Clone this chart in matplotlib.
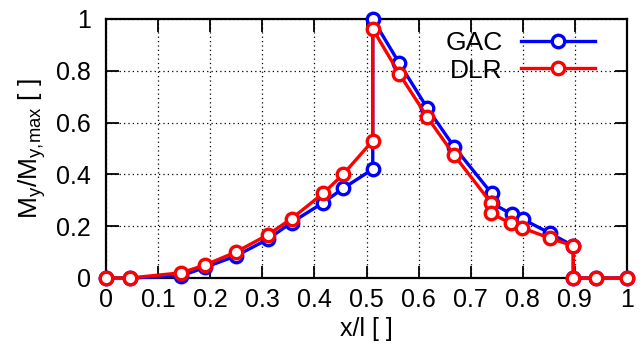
import numpy as np
import matplotlib
matplotlib.use('Agg')
import matplotlib.pyplot as plt
from matplotlib.ticker import FormatStrFormatter

plt.rcParams['font.family'] = ['Liberation Sans', 'DejaVu Sans']
plt.rcParams['mathtext.fontset'] = 'custom'
plt.rcParams['mathtext.rm'] = 'Liberation Sans'
plt.rcParams['mathtext.it'] = 'Liberation Sans'

# Momentenverlauf entlang der Spannweite
gac_x = [0.0, 0.046, 0.144, 0.19, 0.249, 0.31, 0.356, 0.417, 0.455, 0.512, 0.512,
         0.563, 0.617, 0.668, 0.74, 0.74, 0.779, 0.80, 0.852, 0.897, 0.897, 0.94, 1.0]
gac_y = [0.0, 0.0, 0.008, 0.041, 0.085, 0.149, 0.214, 0.291, 0.346, 0.42, 1.0,
         0.829, 0.655, 0.507, 0.327, 0.29, 0.246, 0.227, 0.173, 0.124, 0.0, 0.0, 0.0]

dlr_x = [0.0, 0.046, 0.144, 0.19, 0.249, 0.31, 0.356, 0.417, 0.455, 0.512, 0.512,
         0.563, 0.617, 0.668, 0.739, 0.739, 0.777, 0.798, 0.853, 0.897, 0.897, 0.94, 1.0]
dlr_y = [0.0, 0.0, 0.02, 0.05, 0.10, 0.166, 0.229, 0.327, 0.40, 0.53, 0.961,
         0.788, 0.62, 0.475, 0.29, 0.25, 0.211, 0.194, 0.153, 0.124, 0.0, 0.0, 0.0]

x_ticks = np.arange(0, 1.01, 0.1)
y_ticks = np.arange(0, 1.01, 0.2)

fig = plt.figure(figsize=(6.43, 3.58), dpi=100)
ax = fig.add_axes([0.165, 0.2235, 0.81, 0.7235])

style = dict(linewidth=2.4, marker='o', markersize=9, markerfacecolor='white',
             markeredgewidth=2.4, clip_on=False)
ax.plot(gac_x, gac_y, color='#0000ff', label='GAC', zorder=3, **style)
ax.plot(dlr_x, dlr_y, color='#ff0000', label='DLR', zorder=4, **style)

ax.set_xlim(0, 1)
ax.set_ylim(0, 1)
ax.set_xticks(x_ticks)
ax.set_yticks(y_ticks)
ax.xaxis.set_major_formatter(FormatStrFormatter('%g'))
ax.yaxis.set_major_formatter(FormatStrFormatter('%g'))
ax.tick_params(direction='in', length=9, width=1.3, labelsize=18,
               top=True, right=True)
ax.tick_params(axis='x', pad=7)
ax.tick_params(axis='y', pad=11)
ax.grid(True, color='black', linestyle=(0, (1, 2.5)), linewidth=0.9)
for s in ax.spines.values():
    s.set_linewidth(1.6)

ax.set_xlabel('x/l [ ]', fontsize=18, labelpad=4)
ax.set_ylabel(r'M$_\mathregular{y}$/M$_\mathregular{y{,}max}$ [ ]', fontsize=19, labelpad=6)

leg = ax.legend(loc='upper right', frameon=False, markerfirst=False, fontsize=19,
                handlelength=2.8, numpoints=1, labelspacing=0.12,
                bbox_to_anchor=(0.939, 0.952), borderaxespad=0, borderpad=0,
                handletextpad=0.7)
for t in leg.get_texts():
    t.set_ha('right')

fig.savefig('out.png', dpi=100)
